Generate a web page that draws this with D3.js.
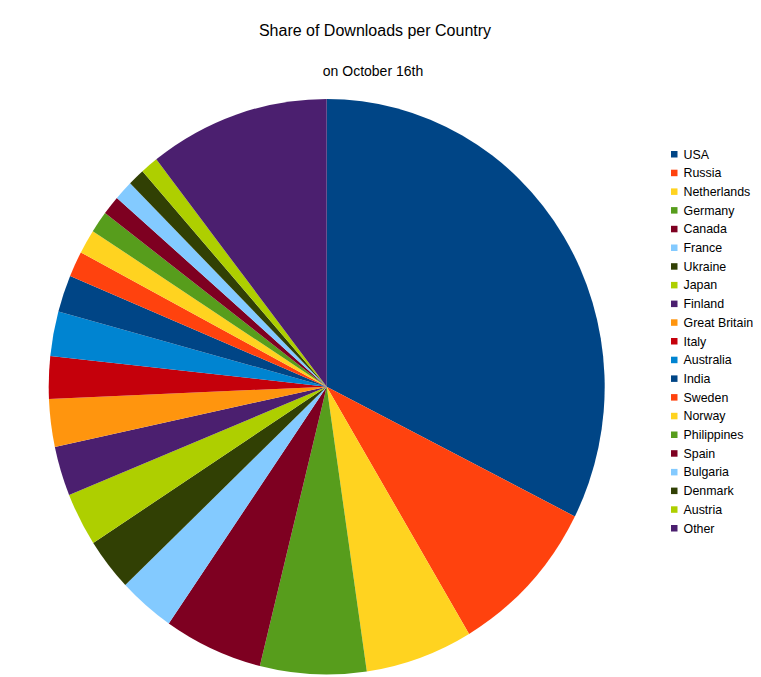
<!DOCTYPE html>
<html>
<head>
<meta charset="utf-8">
<script src="https://cdn.jsdelivr.net/npm/d3@7"></script>
<style>
  html, body { margin: 0; padding: 0; background: #fff; }
  svg { display: block; font-family: "Liberation Sans", Arial, sans-serif; }
</style>
</head>
<body>
<script>
const countries = ["USA","Russia","Netherlands","Germany","Canada","France","Ukraine","Japan","Finland","Great Britain","Italy","Australia","India","Sweden","Norway","Philippines","Spain","Bulgaria","Denmark","Austria","Other"];
const shares = [32.44, 9.0, 6.25, 6.17, 5.75, 3.28, 2.97, 3.0, 2.78, 2.67, 2.39, 2.5, 2.08, 1.44, 1.36, 1.22, 1.08, 1.11, 0.97, 1.03, 10.5];
const palette = ["#004586","#ff420e","#ffd320","#579d1c","#7e0021","#83caff","#314004","#aecf00","#4b1f6f","#ff950e","#c5000b","#0084d1"];
const titleText = "Share of Downloads per Country";
const subtitleText = "on October 16th";

const W = 761, H = 677;
const svg = d3.select("body").append("svg").attr("width", W).attr("height", H);

svg.append("text").attr("x", 375).attr("y", 35.5).attr("text-anchor", "middle")
  .attr("font-size", 16).attr("fill", "#000").text(titleText);
svg.append("text").attr("x", 373).attr("y", 76).attr("text-anchor", "middle")
  .attr("font-size", 14).attr("fill", "#000").text(subtitleText);

const color = d3.scaleOrdinal().domain(countries).range(countries.map((c, i) => palette[i % palette.length]));

const data = countries.map((c, i) => ({ name: c, value: shares[i] }));
const pie = d3.pie().value(d => d.value).sort(null);
const rx = 278, ry = 287.8;
const arc = d3.arc().innerRadius(0).outerRadius(rx);

const g = svg.append("g").attr("transform", `translate(326.7,386.7) scale(1,${ry / rx})`);
g.selectAll("path").data(pie(data)).enter().append("path")
  .attr("d", arc).attr("fill", d => color(d.data.name));

const legend = svg.append("g");
const rowY = d3.scalePoint().domain(countries).range([154, 528]);
const items = legend.selectAll("g").data(countries).enter().append("g")
  .attr("transform", d => `translate(671,${rowY(d)})`);
items.append("rect").attr("x", 0).attr("y", -3).attr("width", 6.5).attr("height", 6.5)
  .attr("fill", d => color(d));
items.append("text").attr("x", 12.5).attr("y", 4.5).attr("font-size", 12.4)
  .attr("fill", "#000").text(d => d);
</script>
</body>
</html>
